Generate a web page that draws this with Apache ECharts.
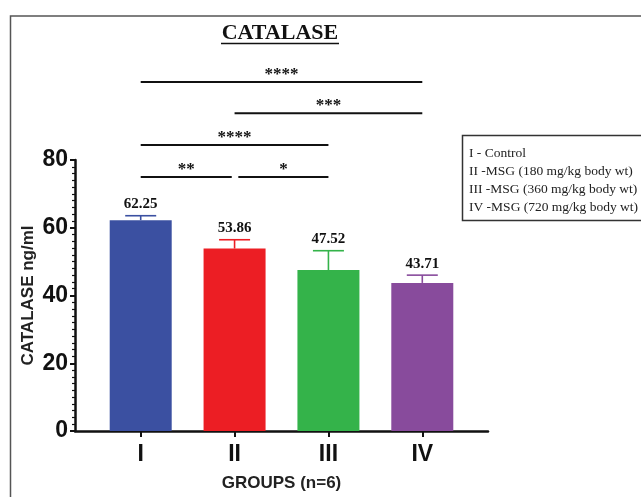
<!DOCTYPE html>
<html>
<head>
<meta charset="utf-8">
<script src="https://cdn.jsdelivr.net/npm/echarts@6/dist/echarts.min.js"></script>
<style>html,body{margin:0;padding:0;background:#fff;}#c{width:641px;height:497px;}</style>
</head>
<body>
<div id="c"></div>
<script>
const categories = ['I', 'II', 'III', 'IV'];
const values = [62.25, 53.86, 47.52, 43.71];
const errors = [1.3, 2.6, 5.7, 2.3];
const barColors = ['#3B50A1', '#EC1E24', '#34B34A', '#884B9C'];
const yTicks = [0, 20, 40, 60, 80];
// significance brackets: [from, to, level]
const bracketFrom = [0, 1, 0, 0, 1.04];
const bracketTo = [3, 3, 2, 0.97, 2];
const bracketLevel = [103.0, 93.8, 84.4, 75.0, 75.0];
const bracketStars = ['****', '***', '****', '**', '*'];
const legendLines = ['I - Control', 'II -MSG (180 mg/kg body wt)', 'III -MSG (360 mg/kg body wt)', 'IV -MSG (720 mg/kg body wt)'];

const chart = echarts.init(document.getElementById('c'), null, {renderer: 'canvas'});

const barData = values.map((v, i) => ({value: [i, v], itemStyle: {color: barColors[i]}}));
const errData = values.map((v, i) => [i, v, errors[i]]);
const brData = bracketFrom.map((f, i) => [f, bracketTo[i], bracketLevel[i], i]);

const option = {
  animation: false,
  backgroundColor: '#ffffff',
  grid: {left: 75, right: 153, top: 160, bottom: 66, containLabel: false},
  xAxis: {
    type: 'value', min: -0.7, max: 3.7,
    name: 'GROUPS (n=6)', nameLocation: 'middle', nameGap: 44, nameMoveOverlap: false,
    nameTextStyle: {fontFamily: 'Liberation Sans', fontWeight: 'bold', fontSize: 17, color: '#222'},
    splitLine: {show: false},
    axisLine: {show: true, onZero: false, lineStyle: {color: '#111', width: 2.5}},
    axisTick: {show: true, customValues: [0, 1, 2, 3], length: 6, lineStyle: {color: '#111', width: 2}},
    axisLabel: {customValues: [0, 1, 2, 3], margin: 12, fontFamily: 'Liberation Sans', fontWeight: 'bold', fontSize: 23, color: '#111',
      formatter: v => categories[Math.round(v)]}
  },
  yAxis: {
    type: 'value', min: 0, max: 80, interval: 20,
    name: 'CATALASE ng/ml', nameLocation: 'middle', nameGap: 38, nameMoveOverlap: false,
    nameTextStyle: {fontFamily: 'Liberation Sans', fontWeight: 'bold', fontSize: 17, color: '#222'},
    splitLine: {show: false},
    axisLine: {show: true, onZero: false, lineStyle: {color: '#111', width: 2.5}},
    axisTick: {show: true, length: 5, lineStyle: {color: '#111', width: 2}},
    minorTick: {show: true, splitNumber: 10, length: 3, lineStyle: {color: '#111', width: 1.2}},
    axisLabel: {margin: 7, fontFamily: 'Liberation Sans', fontWeight: 'bold', fontSize: 23, color: '#111',
      formatter: v => yTicks.indexOf(v) >= 0 ? String(v) : ''}
  },
  series: [
    {
      type: 'bar', data: barData, barWidth: 62, z: 2
    },
    {
      type: 'custom', data: errData, z: 3, clip: false,
      renderItem: function (params, api) {
        const i = api.value(0), v = api.value(1), e = api.value(2);
        const p0 = api.coord([i, v]);
        const p1 = api.coord([i, v + e]);
        const c = barColors[params.dataIndex];
        const half = 15.5;
        return {
          type: 'group',
          children: [
            {type: 'line', shape: {x1: p0[0], y1: p0[1], x2: p1[0], y2: p1[1]}, style: {stroke: c, lineWidth: 1.6}},
            {type: 'line', shape: {x1: p1[0] - half, y1: p1[1], x2: p1[0] + half, y2: p1[1]}, style: {stroke: c, lineWidth: 1.6}},
            {type: 'text', x: p1[0], y: p1[1] - 4, style: {text: values[params.dataIndex].toFixed(2), align: 'center', verticalAlign: 'bottom',
              font: 'bold 15px "Liberation Serif"', fill: '#111'}}
          ]
        };
      }
    },
    {
      type: 'custom', data: brData, z: 3, clip: false,
      renderItem: function (params, api) {
        const a = api.coord([api.value(0), api.value(2)]);
        const b = api.coord([api.value(1), api.value(2)]);
        return {
          type: 'group',
          children: [
            {type: 'line', shape: {x1: a[0], y1: a[1], x2: b[0], y2: b[1]}, style: {stroke: '#111', lineWidth: 2}},
            {type: 'text', x: (a[0] + b[0]) / 2, y: a[1] + 1, style: {text: bracketStars[api.value(3)], align: 'center', verticalAlign: 'bottom',
              font: 'bold 17px "Liberation Serif"', fill: '#111'}}
          ]
        };
      }
    }
  ],
  graphic: [
    {type: 'polyline', shape: {points: [[10.5, 497], [10.5, 16], [641, 16]]}, style: {stroke: '#555', lineWidth: 1.5, fill: null}, z: 0},
    {type: 'text', x: 280, y: 33, style: {text: 'CATALASE', align: 'center', verticalAlign: 'middle', font: 'bold 22px "Liberation Serif"', fill: '#111'}},
    {type: 'line', shape: {x1: 221, y1: 43.5, x2: 339, y2: 43.5}, style: {stroke: '#111', lineWidth: 1.5}},
    {type: 'rect', shape: {x: 462.5, y: 135.5, width: 180, height: 85}, style: {stroke: '#333', lineWidth: 1.5, fill: '#fff'}},
    {type: 'text', x: 469, y: 144, style: {text: legendLines.join('\n'), lineHeight: 18.2, font: '13.5px "Liberation Serif"', fill: '#222'}}
  ]
};
chart.setOption(option);
</script>
</body>
</html>
